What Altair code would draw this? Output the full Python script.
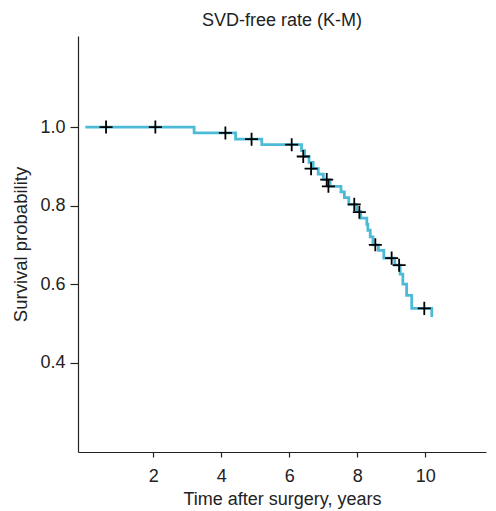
import altair as alt
import pandas as pd

# Kaplan-Meier step curve (time of step, survival after step)
step_time = [0, 3.2, 4.42, 5.19, 6.36, 6.45, 6.58, 6.7, 6.85, 7.0, 7.2, 7.52, 7.62,
             7.75, 7.98, 8.1, 8.28, 8.31, 8.38, 8.46, 8.62, 8.78, 9.1, 9.26, 9.34,
             9.45, 9.6, 10.19]
step_surv = [1.0, 0.985, 0.969, 0.955, 0.94, 0.925, 0.91, 0.894, 0.88, 0.866, 0.849,
             0.835, 0.82, 0.803, 0.785, 0.768, 0.752, 0.737, 0.72, 0.70, 0.686, 0.666,
             0.648, 0.625, 0.60, 0.571, 0.538, 0.516]

# censored observations
cens_time = [0.61, 2.06, 4.12, 4.89, 6.07, 6.41, 6.64, 7.1, 7.15, 7.91, 8.06, 8.53,
             9.01, 9.23, 9.97]
cens_surv = [1.0, 1.0, 0.985, 0.969, 0.955, 0.925, 0.894, 0.866, 0.849, 0.803, 0.783,
             0.70, 0.666, 0.648, 0.538]

x_ticks = [2, 4, 6, 8, 10]
y_ticks = [0.4, 0.6, 0.8, 1.0]

steps = pd.DataFrame({"t": step_time, "s": step_surv})
cens = pd.DataFrame({"t": cens_time, "s": cens_surv})

FONT = "Liberation Sans"
FS = 18

xscale = alt.Scale(domain=[-0.215, 11.785], nice=False, zero=False)
yscale = alt.Scale(domain=[0.172, 1.232], nice=False, zero=False)

xaxis = alt.Axis(title="Time after surgery, years", values=x_ticks, grid=False,
                 tickSize=5, labelPadding=10, titlePadding=5, format="d")
yaxis = alt.Axis(title="Survival probability", values=y_ticks, grid=False,
                 tickSize=8, labelPadding=5, titlePadding=9, format=".1f",
                 titleFontSize=18.5)

line = alt.Chart(steps).mark_line(interpolate="step-after", color="#4DBBD8",
                                  strokeWidth=2.8).encode(
    x=alt.X("t:Q", scale=xscale, axis=xaxis),
    y=alt.Y("s:Q", scale=yscale, axis=yaxis),
)

marks = alt.Chart(cens).mark_point(shape="M-1,0L1,0M0,-1L0,1", size=170, filled=False,
                                   stroke="black", strokeWidth=1.8, opacity=1).encode(
    x=alt.X("t:Q", scale=xscale),
    y=alt.Y("s:Q", scale=yscale),
)

chart = (line + marks).properties(
    width=408, height=416,
    title=alt.TitleParams("SVD-free rate (K-M)", anchor="middle", offset=6,
                          fontSize=FS, fontWeight="normal", font=FONT, color="#222222"),
    autosize=alt.AutoSizeParams(type="none"),
    padding={"left": 70, "top": 28, "right": 2, "bottom": 60},
).configure_view(strokeWidth=0).configure_axis(
    domainColor="#222222", tickColor="#222222", domainWidth=1.2, tickWidth=1.2,
    labelFont=FONT, titleFont=FONT, labelFontSize=FS, titleFontSize=FS,
    labelColor="#222222", titleColor="#222222", titleFontWeight="normal",
)

chart.save("out.html", embed_options={"renderer": "svg", "actions": False})
